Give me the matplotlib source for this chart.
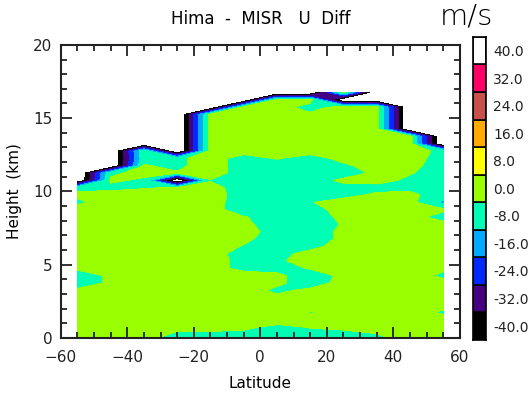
import numpy as np
import matplotlib
matplotlib.use('Agg')
import matplotlib.pyplot as plt

# Hima - MISR zonal wind difference, 10 deg x 0.5 km grid
lats = [-55, -45, -35, -25, -15, -5, 5, 15, 25, 35, 45, 55]
heights = [0.0, 0.75, 1.25, 1.75, 2.25, 2.75, 3.25, 3.75, 4.25, 4.75, 5.25,
           5.75, 6.25, 6.75, 7.25, 7.75, 8.25, 8.75, 9.25, 9.75, 10.25, 10.75,
           11.25, 11.75, 12.25, 12.75, 13.25, 13.75, 14.25, 14.75, 15.25,
           15.75, 16.25, 16.75]

# one char per grid point: '.' missing, 'b' about -10, digits -4.5 .. 4.5
code_vals = {'.': -52.0, 'b': -10.0, '0': -4.5, '1': -3.5, '2': -2.5, '3': -1.5,
             '4': -0.5, '5': 0.5, '6': 1.5, '7': 2.5, '8': 3.5, '9': 4.5}

# rows from top (16.75 km) down to the surface
diff_rows = [
    '........7...',
    '......88....',
    '.....88188..',
    '....888688..',
    '....888888..',
    '....888888..',
    '....8888888.',
    '....8888888.',
    '..4.88888873',
    '..2381517872',
    '..5381113862',
    '.37581111651',
    '.63.41116731',
    '324571112231',
    '688881112661',
    '38888014887b',
    '888880127886',
    '888885116881',
    '888886115887',
    '888888116888',
    '888486116888',
    '888884128888',
    '888881278888',
    '888882388888',
    '688882258886',
    '068888616883',
    '068888617887',
    '688888368888',
    '888888688888',
    '888888888888',
    '888888945893',
    '888888888888',
    '888776356788',
    '887111011378',
]

levels = [-40, -32, -24, -16, -8, 0, 8, 16, 24, 32, 40]
colors = ['#000000', '#460082', '#0028ff', '#00aaff', '#00ffb4',
          '#99ff00', '#ffff00', '#ffaa00', '#c8504b', '#ff0066']
top_color = '#ffffff'

field = np.array([[code_vals[c] for c in row] for row in diff_rows[::-1]])

fig = plt.figure(figsize=(5.28, 3.97), dpi=100)
ax = fig.add_axes([0.115, 0.149, 0.756, 0.738])
ax.contourf(lats, heights, field, levels=levels, colors=colors, antialiased=False)

ax.set_xlim(-60, 60)
ax.set_ylim(0, 20)
ax.set_xticks([-60, -40, -20, 0, 20, 40, 60])
ax.set_xticks(np.arange(-60, 61, 5), minor=True)
ax.set_yticks([0, 5, 10, 15, 20])
ax.set_yticks(np.arange(0, 21, 1), minor=True)
ax.tick_params(which='both', direction='in', top=True, right=True, width=1.3,
               labelsize=11, colors='#222222')
ax.tick_params(axis='x', pad=9)
ax.tick_params(axis='y', pad=6)
ax.tick_params(which='major', length=8)
ax.tick_params(which='minor', length=4)
for s in ax.spines.values():
    s.set_linewidth(1.5)
    s.set_color('#222222')
ax.set_xlabel('Latitude', fontsize=11, labelpad=8)
ax.set_ylabel('Height  (km)', fontsize=11, labelpad=8)
ax.set_title('Hima  -  MISR   U  Diff', fontsize=12, pad=15)

fig.text(0.883, 0.958, 'm/s', fontsize=21, ha='center', va='center',
         fontweight='light')

# colour bar as stacked boxes
cax = fig.add_axes([0.896, 0.144, 0.0246, 0.763])
box_colors = colors + [top_color]
box_labels = ['%.1f' % v for v in levels]
cax.bar([0] * len(box_colors), [1] * len(box_colors), bottom=np.arange(len(box_colors)),
        width=1, align='edge', color=box_colors, edgecolor='black', linewidth=1.2)
cax.set_xlim(0, 1)
cax.set_ylim(0, len(box_colors))
cax.set_xticks([])
cax.set_yticks(np.arange(len(box_colors)) + 0.5)
cax.set_yticklabels(box_labels)
cax.yaxis.tick_right()
cax.tick_params(axis='y', length=0, labelsize=10, pad=5, colors='#222222')
for s in cax.spines.values():
    s.set_linewidth(1.2)

fig.savefig('out.png', dpi=100)
